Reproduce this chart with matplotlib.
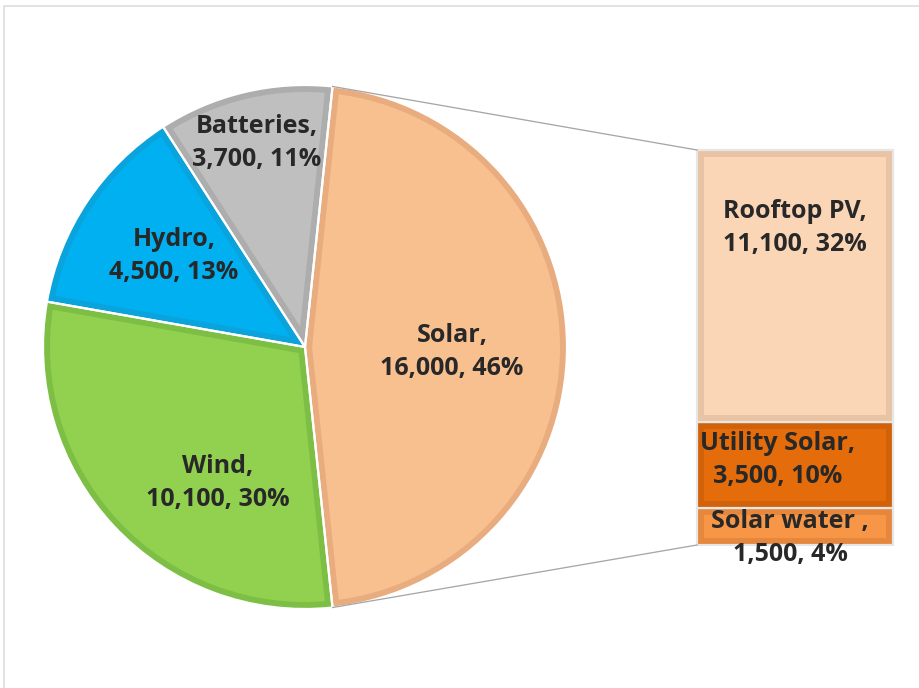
import matplotlib.pyplot as plt
import numpy as np
from matplotlib.patches import Rectangle, Wedge

# main pie data (Solar is the slice that gets split out)
pie_names = ["Solar", "Batteries", "Hydro", "Wind"]
pie_values = [16000, 3700, 4500, 10100]
pie_labels = ["Solar,\n16,000, 46%", "Batteries,\n3,700, 11%", "Hydro,\n4,500, 13%", "Wind,\n10,100, 30%"]
pie_face = ["#F8BF8F", "#BFBFBF", "#00B0F0", "#92D050"]
pie_edge = ["#E8AC7E", "#ADADAD", "#0AA3DC", "#7DBF45"]

# solar breakdown (bottom to top of the bar)
sub_names = ["Solar water", "Utility Solar", "Rooftop PV"]
sub_values = [1500, 3500, 11100]
sub_labels = ["Solar water ,\n1,500, 4%", "Utility Solar,\n3,500, 10%", "Rooftop PV,\n11,100, 32%"]
sub_face = ["#F79646", "#E46C0A", "#FBD6B6"]
sub_edge = ["#E5873C", "#D2620A", "#E8C3A4"]

W, H = 919, 688
fig = plt.figure(figsize=(W / 100, H / 100), dpi=100)
ax = fig.add_axes([0, 0, 1, 1])

px = 0.72  # points per pixel at 100 dpi
cx, cy, r = 305, H - 347, 262
fracs = np.array(pie_values) / sum(pie_values)
start = -fracs[0] * 180
edges = start + 360 * np.concatenate([[0], np.cumsum(fracs)])

for i in range(len(pie_values)):
    w = Wedge((cx, cy), r, edges[i], edges[i + 1], facecolor=pie_face[i],
              edgecolor=pie_edge[i], lw=14 * px)
    ax.add_patch(w)
    w.set_clip_path(w)
for i in range(len(pie_values)):
    ax.add_patch(Wedge((cx, cy), r, edges[i], edges[i + 1], facecolor="none",
                       edgecolor="white", lw=2.2 * px))

# label positions (layout only, pixels from top-left)
pie_label_pos = [(452, 352), (257, 143), (174, 256), (218, 483)]
tkw = dict(ha="center", va="center", fontsize=18, fontweight="bold", color="#282828",
           family=["Open Sans", "DejaVu Sans"], linespacing=1.42)
for lab, (x, y) in zip(pie_labels, pie_label_pos):
    ax.text(x, H - y, lab, **tkw)

# bar of the breakdown
bx0, bx1 = 697, 893
by_top, by_bot = H - 150, H - 545
scale = (by_top - by_bot) / sum(sub_values)
bottom = by_bot
for val, fc, ec in zip(sub_values, sub_face, sub_edge):
    h = val * scale
    rect = Rectangle((bx0, bottom), bx1 - bx0, h, facecolor=fc, edgecolor=ec, lw=14 * px)
    ax.add_patch(rect)
    rect.set_clip_path(rect)
    ax.add_patch(Rectangle((bx0, bottom), bx1 - bx0, h, facecolor="none",
                           edgecolor="#E6E6E6", lw=2.2 * px))
    bottom += h

sub_label_pos = [(790, 538), (778, 460), (795, 228)]
for lab, (x, y) in zip(sub_labels, sub_label_pos):
    ax.text(x, H - y, lab, **tkw)

# connector lines from the solar slice to the bar
theta = np.deg2rad(fracs[0] * 180)
ax.plot([cx + r * np.cos(theta), bx0], [cy + r * np.sin(theta), by_top],
        color="#A6A6A6", lw=1.3 * px)
ax.plot([cx + r * np.cos(theta), bx0], [cy - r * np.sin(theta), by_bot],
        color="#A6A6A6", lw=1.3 * px)

# chart area frame (cut off at right and bottom)
ax.plot([4, 4, W + 10], [-10, H - 6, H - 6], color="#D9D9D9", lw=1.5 * px)

ax.set_xlim(0, W)
ax.set_ylim(0, H)
ax.set_aspect("equal")
ax.axis("off")
fig.savefig("out.png", dpi=100)
